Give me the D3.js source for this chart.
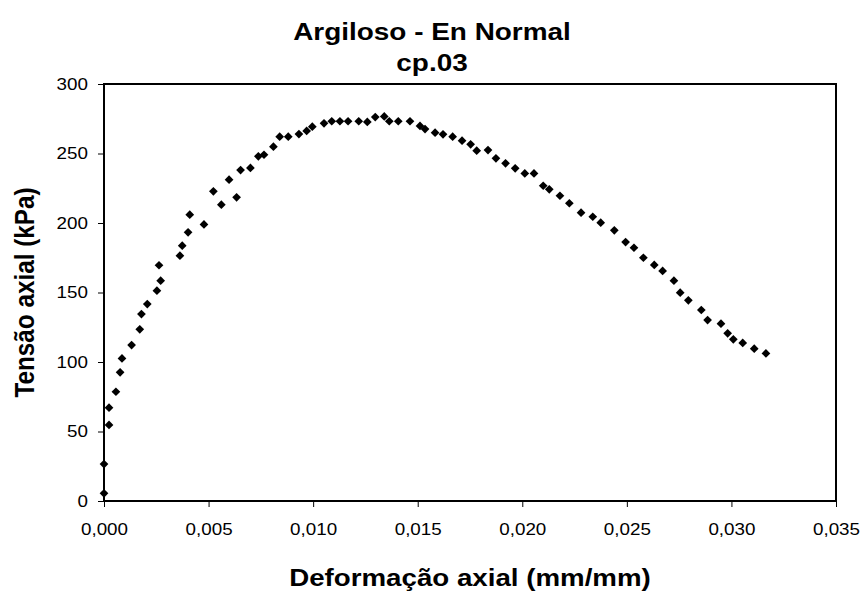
<!DOCTYPE html>
<html>
<head>
<meta charset="utf-8">
<script src="https://cdn.jsdelivr.net/npm/d3@7"></script>
<style>
  html, body { margin: 0; padding: 0; background: #fff; }
  svg { display: block; font-family: "Liberation Sans", Arial, sans-serif; }
</style>
</head>
<body>
<svg id="chart" width="866" height="592"></svg>
<script>
// ---- Data ----
const titleLines = ["Argiloso - En Normal", "cp.03"];
const xTitle = "Deformação axial (mm/mm)";
const yTitle = "Tensão axial (kPa)";

const strain = [
  0.0000, 0.0000, 0.00024, 0.00024, 0.00057, 0.00077, 0.00086, 0.00132, 0.00171, 0.00179,
  0.00207, 0.00253, 0.00271, 0.00263, 0.00363, 0.00374, 0.00402, 0.0041, 0.00478, 0.00523,
  0.00561, 0.00598, 0.00634, 0.00653, 0.0070, 0.00738, 0.00765, 0.0081, 0.0084, 0.00881,
  0.00932, 0.00969, 0.00996, 0.01052, 0.01089, 0.01128, 0.01167, 0.01218, 0.01259, 0.01297,
  0.0134, 0.01364, 0.01407, 0.01463, 0.01511, 0.01535, 0.01583, 0.01621, 0.01667, 0.01712,
  0.01753, 0.01782, 0.01836, 0.01874, 0.0192, 0.01966, 0.02012, 0.02056, 0.021, 0.02129,
  0.0218, 0.02225, 0.02281, 0.02337, 0.02375, 0.0244, 0.02494, 0.02534, 0.02579, 0.02631,
  0.02671, 0.02725, 0.02755, 0.02794, 0.02856, 0.02886, 0.0295, 0.02982, 0.03009, 0.03054,
  0.03109, 0.03165
];
const stress = [
  5.5, 26.6, 54.7, 67.1, 78.6, 92.6, 102.6, 112.2, 123.5, 134.5,
  141.7, 151.3, 158.5, 169.6, 176.5, 183.7, 193.3, 206, 199, 222.8,
  213.2, 231.2, 218.5, 238.1, 239.6, 248, 249.1, 254.9, 262.1, 262.1,
  264, 266.2, 269.3, 271.7, 273.2, 273.2, 273.2, 273.2, 272.7, 276.2,
  276.7, 273.2, 273.2, 273.2, 269.8, 267.6, 265, 263.8, 262.1, 259.2,
  256.6, 252, 252.5, 246.5, 242.9, 239.3, 235.7, 235.7, 226.8, 224.2,
  219.6, 214.2, 207.4, 204.5, 200.2, 194.7, 186.3, 182.2, 175, 169.8,
  165.5, 158.5, 149.9, 144.4, 137.4, 130.2, 127.6, 120.6, 116.3, 113.7,
  109.6, 106.2
];
const xTicks = [0, 0.005, 0.010, 0.015, 0.020, 0.025, 0.030, 0.035];
const yTicks = [0, 50, 100, 150, 200, 250, 300];

// ---- Layout ----
const W = 866, H = 592;
const margin = { top: 84, right: 30, bottom: 91, left: 104 };
const iw = W - margin.left - margin.right;
const ih = H - margin.top - margin.bottom;
const stretch = 1.14; // reference text is horizontally widened

const svg = d3.select("#chart");
const g = svg.append("g").attr("transform", `translate(${margin.left},${margin.top})`);

const x = d3.scaleLinear().domain([0, 0.035]).range([0, iw]);
const y = d3.scaleLinear().domain([0, 300]).range([ih, 0]);

const fmtX = v => d3.format(".3f")(v).replace(".", ",");

// Axes
const xAxis = g.append("g").attr("transform", `translate(0,${ih})`)
  .call(d3.axisBottom(x).tickValues(xTicks).tickFormat(fmtX).tickSize(6).tickPadding(16));
const yAxis = g.append("g")
  .call(d3.axisLeft(y).tickValues(yTicks).tickSize(6).tickPadding(10));

[xAxis, yAxis].forEach(a => {
  a.select(".domain").remove();
  a.selectAll(".tick line").attr("stroke", "#000").attr("stroke-width", 1);
  a.selectAll(".tick text").each(function () {
    const t = d3.select(this);
    const tx = +t.attr("x") || 0, ty = +t.attr("y") || 0;
    t.attr("x", 0).attr("y", 0)
      .attr("transform", `translate(${tx},${ty}) scale(${stretch},1)`)
      .attr("fill", "#000")
      .style("font-family", '"Liberation Sans", Arial, sans-serif')
      .style("font-size", "16.5px");
  });
});

// Plot frame
g.append("rect")
  .attr("x", 0).attr("y", 0).attr("width", iw).attr("height", ih)
  .attr("fill", "none").attr("stroke", "#000").attr("stroke-width", 2);

// Diamond markers
const diamond = {
  draw(ctx, size) {
    const r = Math.sqrt(size / 2);
    ctx.moveTo(0, -r); ctx.lineTo(r, 0); ctx.lineTo(0, r); ctx.lineTo(-r, 0); ctx.closePath();
  }
};
const pts = strain.map((v, i) => ({ x: v, y: stress[i] }));
g.append("g").selectAll("path").data(pts).join("path")
  .attr("transform", d => `translate(${x(d.x)},${y(d.y)})`)
  .attr("d", d3.symbol().type(diamond).size(38))
  .attr("fill", "#000");

// Titles
function hText(px, py, txt, size) {
  svg.append("text")
    .attr("transform", `translate(${px},${py}) scale(${stretch},1)`)
    .attr("text-anchor", "middle")
    .style("font-size", size + "px").style("font-weight", "bold").text(txt);
}
hText(432, 40, titleLines[0], 24.5);
hText(432, 71, titleLines[1], 24.5);
hText(margin.left + iw / 2, 586, xTitle, 24.3);

svg.append("text")
  .attr("transform", `translate(34,${margin.top + ih / 2}) rotate(-90) scale(1,${stretch})`)
  .attr("text-anchor", "middle")
  .style("font-size", "24.3px").style("font-weight", "bold").text(yTitle);
</script>
</body>
</html>
